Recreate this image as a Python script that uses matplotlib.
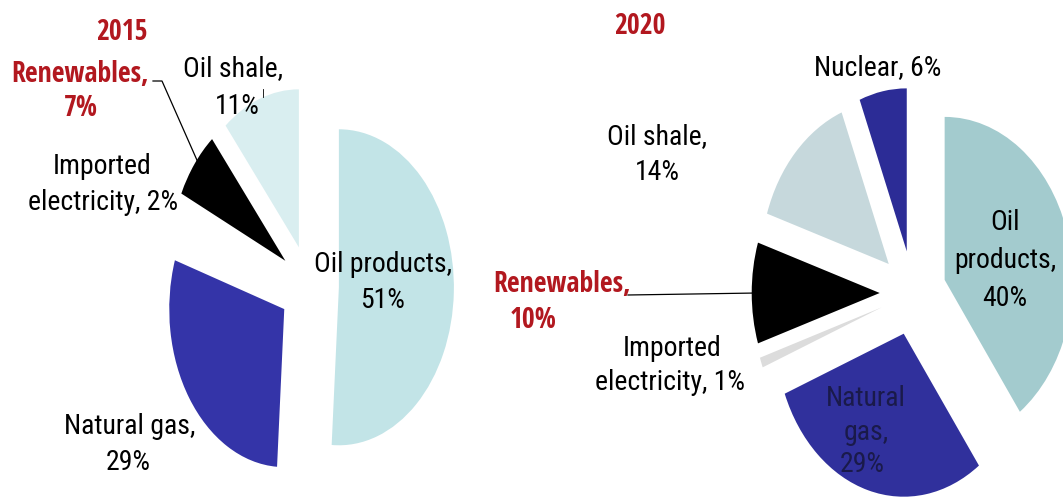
import matplotlib
matplotlib.use("Agg")
import matplotlib.pyplot as plt
from matplotlib import font_manager

# ---------------- data ----------------
labels_2015 = ["Oil products", "Natural gas", "Imported electricity", "Renewables", "Oil shale"]
values_2015 = [51, 29, 2, 7, 11]
colors_2015 = ["#c2e4e7", "#3434a8", "#ffffff", "#000000", "#d9eef0"]

labels_2020 = ["Oil products", "Natural gas", "Imported electricity", "Renewables", "Oil shale", "Nuclear"]
values_2020 = [40, 29, 1, 10, 14, 6]
colors_2020 = ["#a3cbce", "#30309c", "#dcdcdc", "#000000", "#c6d8dc", "#2c2c96"]

RED = "#b2181f"

# ---------------- fonts: look for a condensed sans ----------------
reg_file, bold_file = None, None
cands = []
for f in font_manager.fontManager.ttflist:
    nm = f.name.lower()
    st = str(f.stretch).lower()
    narrow = ("narrow" in nm or "condensed" in nm or "condensed" in st
              or (isinstance(f.stretch, int) and f.stretch < 500))
    if narrow and "mono" not in nm and "serif" not in nm.replace("sans", ""):
        cands.append(f)
def pick(bold):
    best = None
    for f in cands:
        w = f.weight if isinstance(f.weight, int) else (700 if "bold" in str(f.weight).lower() else 400)
        if (w >= 600) != bold or f.style != "normal":
            continue
        score = 0
        nm = f.name.lower()
        if "liberation" in nm: score += 3
        if "roboto" in nm or "open sans" in nm or "noto sans" in nm: score += 2
        if "dejavu" in nm: score += 1
        if best is None or score > best[0]:
            best = (score, f.fname)
    return best[1] if best else None
reg_file = pick(False)
bold_file = pick(True)

plt.rcParams["font.family"] = ["Liberation Sans", "DejaVu Sans"]

def fprop(bold, size):
    fn = bold_file if bold else reg_file
    if fn:
        return font_manager.FontProperties(fname=fn, size=size)
    return font_manager.FontProperties(family=["Liberation Sans", "DejaVu Sans"],
                                       weight="bold" if bold else "normal", size=size)

W, H = 1063, 497
fig = plt.figure(figsize=(W / 100, H / 100), dpi=100)
fig.patch.set_facecolor("white")


def pie_axes(values, colors, cx, cy, rx, ry, explode):
    ax = fig.add_axes([0, 0, 1, 1])
    ax.pie(values, colors=colors, startangle=90, counterclock=False,
           explode=[explode] * len(values), radius=1,
           wedgeprops={"linewidth": 0})
    ax.set_aspect("auto")
    ax.set_xlim((0 - cx) / rx, (W - cx) / rx)
    ax.set_ylim((cy - H) / ry, (cy - 0) / ry)
    ax.axis("off")
    ax.patch.set_visible(False)
    return ax


pie_axes(values_2015, colors_2015, 309, 286, 115, 158, 0.26)
pie_axes(values_2020, colors_2020, 913, 293, 128, 163, 0.26)

# overlay axes in pixel space for labels
ov = fig.add_axes([0, 0, 1, 1])
ov.set_xlim(0, W)
ov.set_ylim(H, 0)
ov.axis("off")
ov.patch.set_visible(False)

FS = 20 if reg_file else 18
def t(x, y, s, color="black", bold=False, size=None):
    ov.text(x, y, s, ha="center", va="center", color=color,
            fontproperties=fprop(bold, size or FS))

# 2015
t(122, 33, "2015", RED, True)
t(80, 75, "Renewables,", RED, True)
t(81, 108, "7%", RED, True)
ov.plot([153, 162, 200], [81, 81, 167], color="black", lw=0.9)
t(233, 69, "Oil shale,")
t(237, 106, "11%")
ov.plot([263, 263], [89, 97], color="black", lw=0.6)
t(102, 166, "Imported")
t(103, 203, "electricity, 2%")
t(383, 264, "Oil products,")
t(383, 301, "51%")
t(130, 426, "Natural gas,")
t(128, 462, "29%")

# 2020
t(640, 27, "2020", RED, True)
t(878, 68, "Nuclear, 6%")
t(657, 137, "Oil shale,")
t(657, 172, "14%")
t(1005, 222, "Oil")
t(1005, 260, "products,")
t(1005, 298, "40%")
t(562, 285, "Renewables,", RED, True)
t(533, 320, "10%", RED, True)
ov.plot([628, 757], [295, 293], color="black", lw=0.9)
t(672, 348, "Imported")
t(670, 383, "electricity, 1%")
t(866, 398, "Natural", color="#1a1a4a")
t(866, 432, "gas,", color="#1a1a4a")
t(862, 465, "29%", color="#1a1a4a")

fig.savefig("out.png", dpi=100)
